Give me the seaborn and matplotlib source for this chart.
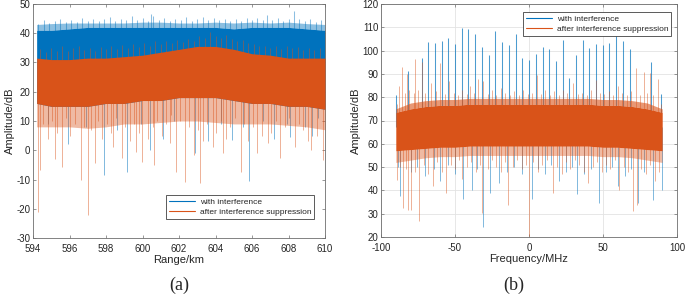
import numpy as np
import pandas as pd
import matplotlib
matplotlib.use("Agg")
import matplotlib.pyplot as plt
from matplotlib.lines import Line2D
import seaborn as sns

BLUE = "#0072BD"
ORANGE = "#D95319"

# ---------------- panel (a): range profile ----------------
range_km = [594.2, 595, 596, 597, 598, 599, 600, 601, 602, 603, 604, 605, 606, 607, 608, 609, 610]
a_blue_peak = [43, 43.3, 43.5, 43.5, 43.5, 43.5, 43.8, 43.8, 43.5, 43.5, 43.8, 43.5, 43.8, 43.5, 43.8, 43.3, 43]
a_blue_top = [41, 41, 41.5, 42, 42, 42, 42, 42, 42, 42, 42, 41.5, 42, 42, 42, 41.5, 41]
a_orange_top = [31.5, 31, 31, 31.5, 31.5, 32, 32.5, 33.5, 34.5, 35.5, 35.5, 34.5, 33, 32.5, 31.5, 31.5, 31.5]
a_orange_bot = [16, 15, 15, 15, 16, 16, 17, 17, 18, 18, 18, 17, 16, 16, 15, 15, 14]
a_orange_low = [8, 8, 8, 7.5, 8, 9, 9, 9.5, 10, 10, 9.5, 9, 9, 9, 8.5, 8, 7]

a_blue_up_x = [594.3, 594.6, 594.9, 595.2, 595.5, 595.8, 596.1, 596.4, 596.7, 597.0, 597.3, 597.6, 597.9,
               598.2, 598.5, 598.8, 599.1, 599.4, 599.7, 600.0, 600.3, 600.45, 600.6, 600.9, 601.2, 601.5,
               601.8, 602.1, 602.4, 602.7, 603.0, 603.3, 603.6, 603.9, 604.2, 604.5, 604.8, 605.1, 605.4,
               605.7, 606.0, 606.3, 606.6, 606.8, 607.1, 607.4, 607.7, 608.0, 608.3, 608.6, 608.9, 609.2,
               609.5, 609.8]
a_blue_up_y = [43.2, 44.5, 43.6, 44.1, 45, 43.8, 44.6, 44.0, 45.1, 44.3, 45, 44.2, 44.8,
               45.5, 44.1, 44.9, 44.4, 46, 44.6, 45.2, 44.3, 46.5, 46, 44.7, 45.2, 44.2,
               44.9, 44.5, 45.4, 44.2, 44.8, 45.5, 44.6, 45.1, 44.4, 45, 44.1, 44.8, 44.3,
               45.2, 44.6, 45.3, 44.4, 46.2, 44.7, 45.1, 44.3, 44.8, 47.5, 44.9, 44.2, 44.8,
               43.9, 44.4]
a_blue_dn_x = [594.8, 595.9, 596.9, 597.89, 598.6, 599.17, 599.9, 600.43, 601.1, 601.7, 602.9, 603.6,
               604.3, 604.88, 605.5, 605.83, 606.6, 607.2, 607.9, 608.1, 608.9, 609.3, 609.6]
a_blue_dn_y = [9, 2, 8, -8.5, 7, -7.3, 9, 0.1, 4, 10, -1, 3, 9, 3.5, 8, -10.4, 10, 4, 9, 4.5, 8, 5, 11]
a_orange_up_x = [594.4, 594.7, 595.0, 595.3, 595.6, 595.9, 596.2, 596.5, 596.8, 597.1, 597.4, 597.7, 598.0,
                 598.3, 598.6, 598.9, 599.2, 599.5, 599.8, 600.1, 600.4, 600.7, 601.0, 601.3, 601.6, 601.9,
                 602.2, 602.5, 602.8, 603.1, 603.4, 603.7, 604.0, 604.3, 604.6, 604.9, 605.2, 605.5, 605.8,
                 606.1, 606.4, 606.7, 607.0, 607.3, 607.6, 607.9, 608.2, 608.5, 608.8, 609.1, 609.4, 609.7]
a_orange_up_y = [34.5, 33.5, 35, 34, 35.5, 33.8, 34.8, 35.5, 34.2, 35, 33.9, 35.3, 34.5,
                 35.8, 34.6, 36, 35, 36.2, 35.3, 36.5, 35.5, 37.5, 36.3, 37.2, 36.5, 37.8,
                 37, 38.2, 37.5, 39, 38.5, 40.5, 39, 38.5, 39.5, 38, 37.5, 37.8, 36.5,
                 36.2, 35.5, 35.8, 35, 35.5, 34.5, 35.8, 34.8, 35.2, 34.3, 35, 34.2, 34.8]
a_orange_dn_x = [594.27, 594.37, 594.55, 594.8, 595.05, 595.22, 595.3, 595.61, 595.8, 596.05, 596.3,
                 596.61, 596.8, 597.03, 597.2, 597.4, 597.55, 597.8, 598.05, 598.3, 598.38, 598.55,
                 598.9, 599.05, 599.3, 599.55, 599.63, 599.8, 599.99, 600.3, 600.55, 600.61, 600.8,
                 601.05, 601.3, 601.49, 601.55, 601.82, 602.05, 602.32, 602.55, 602.84, 603.05,
                 603.15, 603.3, 603.55, 603.88, 604.05, 604.3, 604.42, 604.55, 604.8, 605.05, 605.39,
                 605.55, 605.8, 606.05, 606.3, 606.55, 606.89, 607.05, 607.3, 607.53, 607.8, 608.05,
                 608.35, 608.55, 608.8, 609.05, 609.26, 609.55, 609.9, 610.0]
a_orange_dn_y = [-21, -6.8, 9, 4, 10, -3.1, 6, -5.6, 11, 5, 9,
                 -10.2, 8, -22.1, 7, -4.2, 10, 4, 9, 6, 1.2, 11,
                 -2.8, 8, 3, 9, -0.5, 6, -3.9, 4, 8, -5.0, 10,
                 5, 9, 2.4, 12, -7.3, 10, -10.7, 8, -1.6, 7,
                 -11.1, 3, 9, 1.2, 6, 10, -1.1, 4, 8, 11, -7.3,
                 9, 3, 8, -1.1, 5, 2.4, 6, 10, -2.8, 8, 11,
                 1.2, 9, 7, 3, 0.1, 5, -3.3, -4.2]

# ---------------- panel (b): spectrum ----------------
freq_mhz = [-90, -80, -70, -60, -50, -40, -30, -20, -10, 0, 10, 20, 30, 40, 50, 60, 70, 80, 90]
b_orange_peak = [75, 77.5, 78.5, 79, 79, 79.5, 79.5, 79.5, 79.5, 79.5, 79.5, 79.5, 79.5, 79.5, 79, 79, 78.5, 77.5, 75]
b_orange_top = [73.5, 75, 76, 76.5, 76.5, 77, 77, 77, 77, 77, 77, 77, 77, 77, 76.5, 76.5, 76, 75, 73.5]
b_orange_bot = [57, 57.5, 58, 58.5, 58.5, 59, 59, 59, 59, 59, 59, 59, 59, 59, 58.5, 58.5, 58, 57.5, 57]
b_orange_low = [52, 53, 54, 54.5, 54.5, 55, 55, 55, 55, 55, 55, 55, 55, 55, 54.5, 54.5, 54, 53, 52]

b_blue_up_x = [-89.7, -82, -72.5, -68, -63.5, -59, -54.5, -49.8, -45.5, -41, -36.3, -31.8, -27.3, -22.8,
               -18, -13.5, -9, -4.5, 0, 4.7, 9.2, 13.7, 18.2, 22.7, 27.2, 31.8, 36.3, 40.8, 45.3,
               49.8, 54.3, 59, 63.5, 68, 82.4, 89.2]
b_blue_up_y = [81, 91.3, 97, 103.8, 103.4, 104.3, 105.3, 102.9, 109.9, 109.3, 107.1, 101.7, 98, 108.4,
               103.6, 102.3, 107.1, 97, 96, 98.4, 101.7, 100.6, 95.7, 104.6, 88.3, 98, 104.6, 101.3, 102.7,
               102.4, 103.1, 106.7, 104.1, 100.7, 95, 81.3]
b_orange_up_x = [-89, -88, -86, -84, -82.5, -81, -78, -77, -75, -72.5, -70, -66, -63, -60, -57, -54, -51,
                 -48, -45, -42, -40, -37, -34.7, -31, -28, -25, -22, -19, -16, -13, -10, -7, -4, -1,
                 2, 5.2, 8, 11, 14, 17, 20, 22.7, 26, 30, 33, 36, 39, 42, 45.3, 48, 51, 54, 57, 60,
                 63, 66, 69, 72.3, 75, 78, 80, 82, 84, 87, 89]
b_orange_up_y = [77, 85, 93, 82, 90, 83, 82, 96.3, 83, 95, 82, 86, 82.5, 94.8, 81.5, 87, 82,
                 81, 83, 81.5, 85, 82, 88, 87, 81.5, 83, 81, 84, 82, 81, 82.5, 81, 83, 81.5,
                 82, 89.6, 81.5, 83, 81, 82.5, 81, 83, 82, 86, 81.5, 82, 81, 83, 87.5, 82, 81.5, 82.5, 81, 85,
                 82, 81, 82.5, 92.7, 81, 91, 82, 90.5, 81, 87.7, 77]
b_orange_dn_x = [-89, -87, -84.9, -83, -82, -79.7, -77, -74.3, -71, -68, -65, -62, -59, -56.3, -53, -50,
                 -47, -45, -42, -39, -36, -33, -31.5, -28, -25, -22, -19, -16, -14.4, -11, -8, -5, -2,
                 0.2, 3, 6, 9, 12, 16, 19, 22, 25, 28, 31, 34, 37, 40, 43, 46, 49, 52, 55, 58, 61,
                 64, 67, 70.5, 72.8, 76, 79, 82, 85, 88]
b_orange_dn_y = [44.6, 50, 32.4, 49, 31.7, 31.7, 48, 26.7, 51, 47, 42, 52, 48, 38.8, 51, 49,
                 53, 45, 50, 52, 48, 51, 30.3, 49, 53, 50, 48, 52, 33.9, 50, 53, 49, 51,
                 20.3, 52, 48, 51, 53, 38.8, 50, 47, 52, 49, 53, 51, 48, 43, 50, 52, 48, 51, 49, 53, 40.3,
                 50, 48, 31, 33.9, 49, 47, 51, 44, 48]
b_blue_dn_x = [-88.5, -87.2, -80, -76, -70, -64, -60, -55, -50, -44.4, -38.7, -35, -31.3, -26.4, -20,
               -15, -10, -5, 1.8, 6, 11, 15, 20, 25, 29, 32.2, 37, 42, 47.5, 52, 56, 60, 65, 69,
               73.9, 78, 84, 89.6]
b_blue_dn_y = [50, 37.4, 48, 50, 46, 49, 44, 51, 47, 36.3, 40.3, 49, 24.1, 38.8, 43,
               48, 50, 47, 36.3, 49, 47, 51, 44, 48, 50, 38.4, 47, 49, 34.6, 48, 50, 42, 46, 49,
               34.6, 48, 36, 40.3]

legend_labels = ["with interference", "after interference suppression"]

sns.set_theme(style="ticks")
plt.rcParams['font.family'] = ['Liberation Sans', 'DejaVu Sans']
plt.rcParams['axes.unicode_minus'] = False
plt.rcParams['axes.linewidth'] = 0.6

fig = plt.figure(figsize=(6.85, 2.97), dpi=100)
axA = fig.add_axes([33 / 685, 1 - 238 / 297, (325 - 33) / 685, (238 - 4) / 297])
axB = fig.add_axes([381 / 685, 1 - 237 / 297, (677 - 381) / 685, (237 - 4) / 297])


def draw_panel(ax, x, blue_peak, blue_top, blue_low, or_top, or_bot, or_low,
               bux, buy, bdx, bdy, oux, ouy, odx, ody, blue_base, or_base,
               or_peak=None, up_alpha=0.45):
    # blue (with interference)
    if blue_peak is not None:
        ax.fill_between(x, blue_top, blue_peak, color=BLUE, alpha=0.45, lw=0, zorder=1)
    ax.vlines(bux, blue_base, buy, color=BLUE, alpha=up_alpha, lw=0.75, zorder=1)
    ax.vlines(bdx, blue_base, bdy, color=BLUE, alpha=0.5, lw=0.7, zorder=1)
    if blue_top is not None:
        ax.fill_between(x, blue_low, blue_top, color=BLUE, lw=0, zorder=2)
    # orange (after suppression)
    ax.vlines(oux, or_base, ouy, color=ORANGE, alpha=0.45, lw=0.7, zorder=3)
    ax.vlines(odx, or_base, ody, color=ORANGE, alpha=0.45, lw=0.7, zorder=3)
    ax.fill_between(x, or_low, or_bot, color=ORANGE, alpha=0.4, lw=0, zorder=3)
    if or_peak is not None:
        ax.fill_between(x, or_top, or_peak, color=ORANGE, alpha=0.6, lw=0, zorder=3)
    ax.fill_between(x, or_bot, or_top, color=ORANGE, lw=0, zorder=4)


draw_panel(axA, range_km, a_blue_peak, a_blue_top, a_orange_bot, a_orange_top,
           a_orange_bot, a_orange_low, a_blue_up_x, a_blue_up_y, a_blue_dn_x, a_blue_dn_y,
           a_orange_up_x, a_orange_up_y, a_orange_dn_x, a_orange_dn_y, 30, 25)
draw_panel(axB, freq_mhz, None, None, None, b_orange_top,
           b_orange_bot, b_orange_low, b_blue_up_x, b_blue_up_y, b_blue_dn_x, b_blue_dn_y,
           b_orange_up_x, b_orange_up_y, b_orange_dn_x, b_orange_dn_y, 67, 67,
           or_peak=b_orange_peak, up_alpha=0.7)

axA.set_xlim(594, 610)
axA.set_ylim(-30, 50)
axA.set_xticks(np.arange(594, 611, 2))
axA.set_yticks(np.arange(-30, 51, 10))
axA.set_xlabel("Range/km", fontsize=8, color="#262626", labelpad=1)
axA.set_ylabel("Amplitude/dB", fontsize=8, color="#262626", labelpad=1)

axB.set_xlim(-100, 100)
axB.set_ylim(20, 120)
axB.set_xticks(np.arange(-100, 101, 50))
axB.set_yticks(np.arange(20, 121, 10))
axB.grid(True, color="#e3e3e3", lw=0.6, zorder=0)
axB.set_axisbelow(True)
axB.set_xlabel("Frequency/MHz", fontsize=8, color="#262626", labelpad=1)
axB.set_ylabel("Amplitude/dB", fontsize=8, color="#262626", labelpad=1)

for ax in (axA, axB):
    for s in ax.spines.values():
        s.set_visible(True)
        s.set_color("#6e6e6e")
        s.set_linewidth(0.6)
    ax.tick_params(direction="in", top=True, right=True, length=2.5, width=0.5,
                   color="#6e6e6e", labelsize=7, labelcolor="#262626")
    ax.tick_params(axis="x", pad=4)
    ax.tick_params(axis="y", pad=2)

handles = [Line2D([], [], color=BLUE, lw=0.8), Line2D([], [], color=ORANGE, lw=0.8)]
leg_kw = dict(fontsize=6, frameon=True, fancybox=False, handlelength=3.2,
              borderpad=0.35, labelspacing=0.25, handletextpad=0.5, borderaxespad=0)
legA = axA.legend(handles, legend_labels, loc="lower right", bbox_to_anchor=(0.963, 0.081), **leg_kw)
legB = axB.legend(handles, legend_labels, loc="upper right", bbox_to_anchor=(0.98, 0.965), **leg_kw)
for lg in (legA, legB):
    lg.get_frame().set_edgecolor("#404040")
    lg.get_frame().set_linewidth(0.6)
    lg.get_frame().set_alpha(1)
    lg.set_zorder(10)

fig.text(179 / 685, 1 - 285 / 297, "(a)", ha="center", va="center", fontsize=13,
         family=["Liberation Serif", "DejaVu Serif"])
fig.text(514 / 685, 1 - 285 / 297, "(b)", ha="center", va="center", fontsize=13,
         family=["Liberation Serif", "DejaVu Serif"])

fig.savefig("out.png", dpi=100)
